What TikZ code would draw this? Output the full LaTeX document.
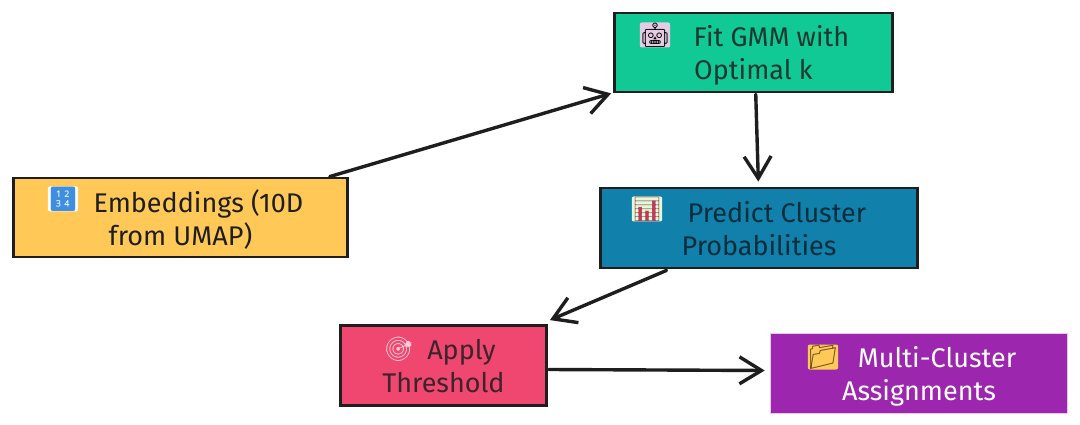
\documentclass[tikz,border=0pt]{standalone}
\usepackage{fontspec}
\setmainfont{Fira Sans}
\newfontfamily\emo{Noto Emoji}
\usetikzlibrary{arrows.meta,calc}
\definecolor{inkc}{HTML}{1E1E1E}
\definecolor{cGreen}{HTML}{11C995}
\definecolor{cBlue}{HTML}{1181AC}
\definecolor{cYellow}{HTML}{FFC857}
\definecolor{cRed}{HTML}{EF476F}
\definecolor{cPurple}{HTML}{9C27AE}
\definecolor{cNum}{HTML}{3F8FE0}
\definecolor{cPink}{HTML}{F9CBD6}
\tikzset{
  x=1pt,y=-1pt,
  flowbox/.style={draw=inkc,line width=2.8pt,align=center,inner sep=0pt,font=\fontsize{27}{33}\selectfont,text depth=0pt},
  flow/.style={draw=inkc,line width=3.4pt,line cap=round,-{Straight Barb[length=22pt,width=27pt,line width=3.4pt]}},
  iconbg/.style={inner sep=0pt,rounded corners=2pt,minimum size=25pt},
}
\newcommand{\ico}[1]{{\emo\fontsize{24}{24}\selectfont #1}}
\newcommand{\lead}{\hspace{36pt}}
\begin{document}
\begin{tikzpicture}
\useasboundingbox (0,0) rectangle (1080,425);
\fill[white] (0,0) rectangle (1080,425);

\node[flowbox,fill=cGreen,text=inkc!85!cGreen,minimum width=278pt,minimum height=79pt] (fit) at (753.5,52.5) {\lead Fit GMM with\\Optimal k};
\node[flowbox,fill=cBlue,text=cBlue!35!black,minimum width=317pt,minimum height=80pt] (pred) at (759,228) {\lead Predict Cluster\\Probabilities};
\node[flowbox,fill=cYellow,text=inkc,minimum width=334pt,minimum height=79pt] (emb) at (180.5,217.5) {\lead Embeddings (10D\\from UMAP)};
\node[flowbox,fill=cRed,text=inkc!85!cRed,minimum width=206pt,minimum height=80pt] (thr) at (443.5,365.5) {\lead Apply\\Threshold};
\node[flowbox,draw=cPurple!25!white,line width=1.6pt,fill=cPurple,text=white,minimum width=297pt,minimum height=80pt] (multi) at (919,373.5) {\lead Multi-Cluster\\Assignments};

\node[iconbg,fill=white,text=cNum] (i1) at (63,199) {\ico{🔢}};
\node[iconbg,fill=violet!20!white,text=black] (i2) at (655,35) {\ico{🤖}};
\node[iconbg,fill=green!15!white,text=cRed!80!black] (i3) at (647,209) {\ico{📊}};
\node[inner sep=0pt,text=cPink] (i4) at (399,349) {\ico{🎯}};
\node[iconbg,fill=cYellow,text=black!60!cYellow] (i5) at (823,357) {\ico{📁}};

\draw[flow] ($(emb.north west)!0.943!(emb.north east)$) -- ($(fit.south west)+(-2,0)$);
\draw[flow] ($(fit.south west)!0.508!(fit.south east)+(0,1)$) -- ($(pred.north west)!0.498!(pred.north east)+(0,-5)$);
\draw[flow] ($(pred.south west)!0.211!(pred.south east)+(0,1)$) -- ($(thr.north east)+(2,-4)$);
\draw[flow] ($(thr.east)+(1,4)$) -- ($(multi.west)+(-5,-3)$);
\end{tikzpicture}
\end{document}
